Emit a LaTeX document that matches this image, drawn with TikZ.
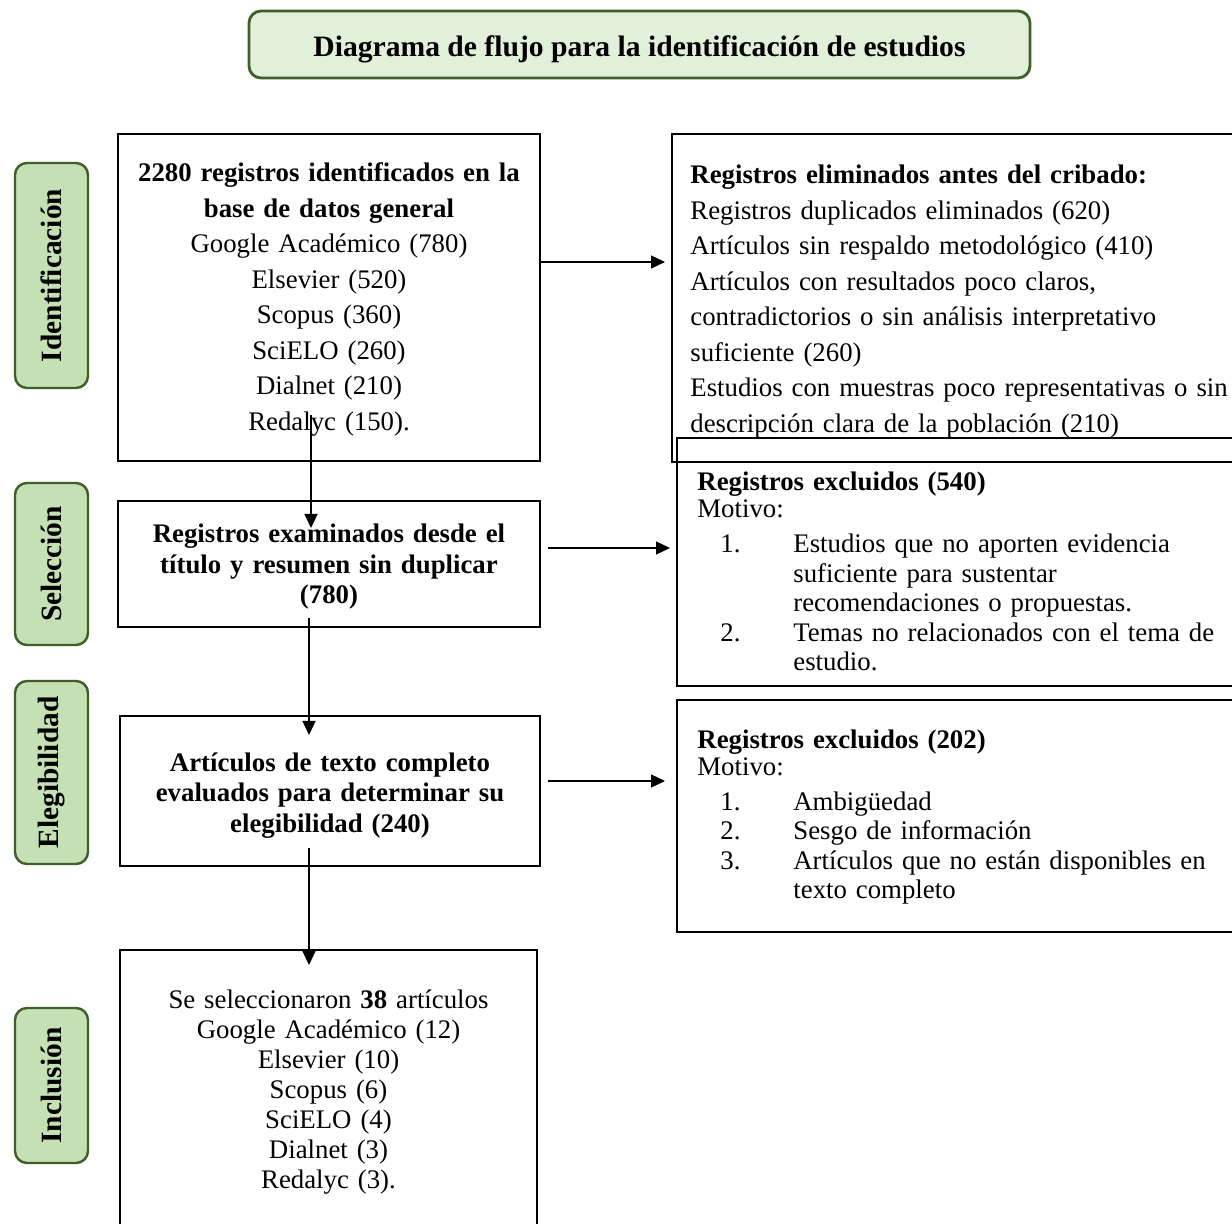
\documentclass[tikz,border=0pt]{standalone}
\usepackage{fontspec}
\setmainfont{Liberation Serif}
\usetikzlibrary{arrows.meta,calc}
\definecolor{titlefill}{HTML}{E2EFDA}
\definecolor{sidefill}{HTML}{C5E0B4}
\definecolor{darkgreen}{HTML}{3F5F28}
\begin{document}
\begin{tikzpicture}[x=0.5pt,y=-0.5pt,
  box/.style={draw, line width=1.15pt, anchor=north west, inner sep=0pt, outer sep=0pt},
  txt/.style={inner sep=0pt, font=\fontsize{13.4pt}{17.75pt}\selectfont},
  arr/.style={-{Triangle[length=7pt,width=6.5pt]}, line width=0.6pt},
  phase/.style={draw=darkgreen, fill=sidefill, line width=1.2pt, rounded corners=6pt,
    rotate=90, minimum height=36.5pt, inner sep=0pt,
    font=\fontsize{14.7pt}{17pt}\selectfont\bfseries}
]
\useasboundingbox (0,0) rectangle (1232,1224);
\clip (0,0) rectangle (1232,1224);
\fill[white] (0,0) rectangle (1232,1224);

% title
\node[draw=darkgreen, fill=titlefill, line width=1.4pt, rounded corners=6pt,
  minimum width=390.5pt, minimum height=33.5pt, inner sep=0pt] (title) at (639.5,44.5) {};
\node[inner sep=0pt, anchor=base, font=\fontsize{14.8pt}{17pt}\selectfont\bfseries]
  (titletext) at (title.center |- 0,57)
  {Diagrama de flujo para la identificación de estudios};

% phase labels
\node[phase, minimum width=112.5pt] (pid) at (51.5,275.5) {Identificación};
\node[phase, minimum width=81pt] (psel) at (51.5,564) {Selección};
\node[phase, minimum width=91.5pt] (pele) at (51.5,772.5) {Elegibilidad};
\node[phase, minimum width=77.5pt] (pinc) at (51.5,1085.5) {Inclusión};

% left boxes
\node[box, minimum width=211pt, minimum height=163.5pt] (b1) at (118,134) {};
\node[box, minimum width=211pt, minimum height=63pt] (b2) at (118,501) {};
\node[box, minimum width=210pt, minimum height=75pt] (b3) at (120,716) {};
\node[box, minimum width=208.5pt, minimum height=150pt] (b4) at (120,950) {};

% right boxes
\node[box, minimum width=290pt, minimum height=164pt] (r1) at (672,134) {};
\node[box, minimum width=290pt, minimum height=124pt] (r2) at (677,438) {};
\node[box, minimum width=290pt, minimum height=116pt] (r3) at (677,700) {};

% texts
\node[txt, text width=211pt, align=center, anchor=base] (t1) at (329,182)
  {\textbf{2280 registros identificados en la}\\
   \textbf{base de datos general}\\
   Google Académico (780)\\
   Elsevier (520)\\
   Scopus (360)\\
   SciELO (260)\\
   Dialnet (210)\\
   Redalyc (150).};

\node[txt, text width=280pt, align=left, anchor=base west] (tr1) at (690,184)
  {\textbf{Registros eliminados antes del cribado:}\\
   Registros duplicados eliminados (620)\\
   Artículos sin respaldo metodológico (410)\\
   Artículos con resultados poco claros,\\
   contradictorios o sin análisis interpretativo\\
   suficiente (260)\\
   Estudios con muestras poco representativas o sin\\
   descripción clara de la población (210)};

\node[txt, font=\fontsize{13.4pt}{15.25pt}\selectfont\bfseries, text width=211pt,
  align=center, anchor=base] (t2) at (329,543)
  {Registros examinados desde el\\título y resumen sin duplicar\\(780)};

\node[txt, font=\fontsize{13.4pt}{15.25pt}\selectfont\bfseries, text width=211pt,
  align=center, anchor=base] (t3) at (330,771)
  {Artículos de texto completo\\evaluados para determinar su\\elegibilidad (240)};

\node[txt, font=\fontsize{13.4pt}{15pt}\selectfont, text width=211pt,
  align=center, anchor=base] (t4) at (328.5,1008)
  {Se seleccionaron \textbf{38} artículos\\
   Google Académico (12)\\
   Elsevier (10)\\
   Scopus (6)\\
   SciELO (4)\\
   Dialnet (3)\\
   Redalyc (3).};

\node[txt, font=\fontsize{13.4pt}{14.75pt}\selectfont, text width=280pt,
  align=left, anchor=base west] (tr2) at (697,491)
  {\textbf{Registros excluidos (540)}\\[-1.25pt]
   Motivo:\\[2.75pt]
   \hspace*{11.5pt}\makebox[36.5pt][l]{1.}Estudios que no aporten evidencia\\
   \hspace*{48pt}suficiente para sustentar\\
   \hspace*{48pt}recomendaciones o propuestas.\\
   \hspace*{11.5pt}\makebox[36.5pt][l]{2.}Temas no relacionados con el tema de\\
   \hspace*{48pt}estudio.};

\node[txt, font=\fontsize{13.4pt}{14.75pt}\selectfont, text width=280pt,
  align=left, anchor=base west] (tr3) at (697,748)
  {\textbf{Registros excluidos (202)}\\[-1.25pt]
   Motivo:\\[2.75pt]
   \hspace*{11.5pt}\makebox[36.5pt][l]{1.}Ambigüedad\\
   \hspace*{11.5pt}\makebox[36.5pt][l]{2.}Sesgo de información\\
   \hspace*{11.5pt}\makebox[36.5pt][l]{3.}Artículos que no están disponibles en\\
   \hspace*{48pt}texto completo};

% connectors
\coordinate (y1) at (0,262);
\coordinate (y2) at (0,548);
\coordinate (y3) at (0,781);
\coordinate (xa) at (311,0);
\coordinate (xb) at (309,0);
\draw[arr, shorten >=3.5pt] (b1.east |- y1) -- (r1.west |- y1);
\draw[arr, shorten <=4pt, shorten >=3.5pt] (b2.east |- y2) -- (r2.west |- y2);
\draw[arr, shorten <=4pt, shorten >=6pt] (b3.east |- y3) -- (r3.west |- y3);
\draw[arr] ($(b1.south -| xa)+(0,-46)$) -- ($(b2.north -| xa)+(0,27)$);
\draw[arr] ($(b2.south -| xb)+(0,-9)$) -- ($(b3.north -| xb)+(0,19)$);
\draw[arr] ($(b3.south -| xb)+(0,-18)$) -- ($(b4.north -| xb)+(0,15)$);
\end{tikzpicture}
\end{document}
